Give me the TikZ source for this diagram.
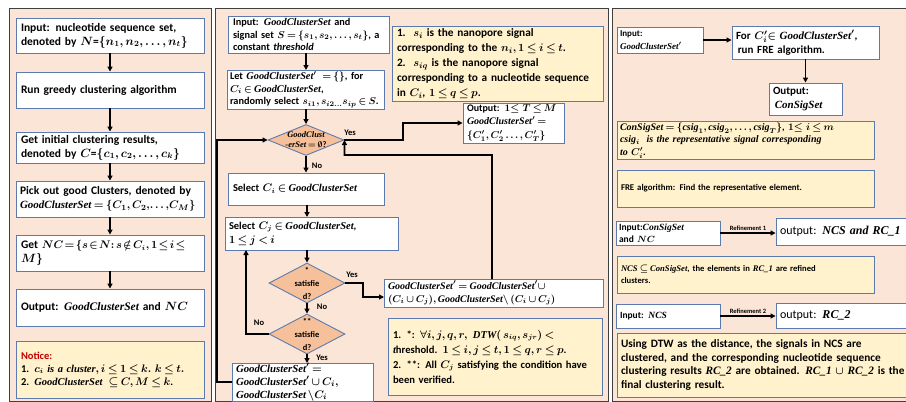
\documentclass[tikz,border=0pt]{standalone}
\usepackage[no-math]{fontspec}
\setmainfont{Carlito}
\newfontfamily\mwfam{Liberation Serif}
\usetikzlibrary{arrows.meta,shapes.geometric}
\definecolor{panfill}{HTML}{FBE5D6}
\definecolor{pancol}{HTML}{3F3F3F}
\definecolor{boxcol}{HTML}{5B7BB0}
\definecolor{notefill}{HTML}{FFF2CC}
\definecolor{diafill}{HTML}{F6C09A}
\definecolor{noticered}{HTML}{C00000}
\newcommand\mwf{\mwfam\bfseries\itshape}
\newcommand\mw[1]{\mbox{\mwf #1}}
\newcommand\gcs{\mw{GoodClusterSet}}
\newcommand\css{\mw{ConSigSet}}
\newcommand\fs[2]{\fontsize{#1}{#2}\selectfont\bfseries\boldmath\thickmuskip=3.5mu plus 2mu\medmuskip=3mu plus 1mu\thinmuskip=2.5mu}
\tikzset{
  panel/.style={draw=pancol, fill=panfill, line width=0.8pt},
  wbox/.style={draw=boxcol, fill=white, line width=0.9pt, align=left, inner xsep=5pt, inner ysep=1pt, anchor=center},
  ybox/.style={wbox, fill=notefill},
  dia/.style={diamond, draw=boxcol, fill=diafill, line width=0.9pt, inner sep=0pt},
  diatext/.style={align=center, inner sep=0pt},
  arr/.style={-{Triangle[length=5pt,width=5pt]}, line width=1.6pt},
  lbl/.style={font=\fs{8.5}{10}, inner sep=0pt},
  tiny/.style={font=\fs{6.5}{8}, inner sep=0pt},
}
\begin{document}
\begin{tikzpicture}[x=1pt,y=-1pt]
\useasboundingbox (0,0) rectangle (906,402);
\fill[white] (0,0) rectangle (906,402);
% panels
\draw[panel] (9,8) rectangle (211,401);
\draw[panel] (215,8) rectangle (608,401);
\draw[panel] (612,8) rectangle (915,401);

% ---------------- panel 1 ----------------
\begin{scope}[every node/.append style={font=\fs{11.5}{14}}]
\node[wbox, minimum width=188, text width=178, minimum height=35] (a1) at (110,35.5)
  {Input: nucleotide sequence set,\\ denoted by $N$=$\{n_1,n_2,\ldots,n_t\}$};
\node[wbox, minimum width=188, text width=178, minimum height=36] (a2) at (110,90)
  {Run greedy clustering algorithm};
\node[wbox, minimum width=188, text width=178, minimum height=31] (a3) at (110,147.5)
  {Get initial clustering results,\\ denoted by $C$=$\{c_1,c_2,\ldots,c_k\}$};
\node[wbox, minimum width=188, text width=180, inner xsep=4pt, minimum height=36] (a4) at (110,199)
  {Pick out good Clusters, denoted by\\ {\fontsize{11}{14}\selectfont$\gcs=\{C_1,C_2,\!\ldots,\!C_M\}$}};
\node[wbox, minimum width=188, text width=178, minimum height=36] (a5) at (110,253)
  {Get {\fontsize{10.5}{14}\selectfont\thickmuskip=2mu plus 1mu\medmuskip=2mu$NC=\{s\in N\colon s\notin C_i,1\le i\le$}\\ $M\}$};
\node[wbox, minimum width=188, text width=178, minimum height=37] (a6) at (110,307.5)
  {Output: $\gcs$ and $NC$};
\node[ybox, minimum width=188, text width=178, minimum height=57, font=\fs{10.5}{13}] (a7) at (110,369.5)
  {{\color{noticered}Notice:}\\
   1. $c_i$ \mw{is a cluster}$, i\le 1\le k.$ $k\le t.$\\
   2. $\gcs\ \subseteq C, M\le k$.};
\end{scope}
\draw[arr] (a1) -- (a2);
\draw[arr] (a2) -- (a3);
\draw[arr] (a3) -- (a4);
\draw[arr] (a4) -- (a5);
\draw[arr] (a5) -- (a6);

% ---------------- panel 2 ----------------
\node[wbox, minimum width=161, text width=151, minimum height=37, font=\fs{10.3}{12.5}] (b1) at (308.5,34.5)
  {Input: $\gcs$ and\\ signal set $S=\{s_1,s_2,\ldots,s_t\}$, a\\ constant \textit{threshold}};
\node[wbox, minimum width=157, text width=151, inner xsep=3pt, minimum height=39, font=\fs{10.3}{12.5}] (b2) at (305.5,89.5)
  {Let $\gcs'\ =\{\}$, for\\ $C_i\in\gcs$,\\ randomly select $s_{i1},s_{i2\ldots}s_{ip}\in S$.};
\node[ybox, minimum width=211, text width=201, minimum height=75, font=\fs{11.3}{15}] (b3) at (497.5,63.5)
  {1. \,$s_i$ is the nanopore signal\\ corresponding to the $n_i,1\le i\le t$.\\
   2. \,$s_{iq}$ is the nanopore signal\\ corresponding to a nucleotide sequence\\ in $C_i$, $1\le q\le p$.};
\node[dia, minimum width=76, minimum height=31] (d1) at (306,140) {};
\node[diatext, font=\fs{8.5}{10}] (d1t) at (306,140) {\mw{GoodClust}\\\mw{-erSet} $=\emptyset$?};
\node[wbox, minimum width=101, text width=93, inner xsep=4pt, minimum height=40, font=\fs{10}{13.5}] (b4) at (513.5,123)
  {Output: $1{\le}\ T\le M$\\ $\gcs'=$\\ $\{C_1',C_2'\ldots,C_T'\}$};
\node[wbox, minimum width=156, text width=146, minimum height=32, font=\fs{10.5}{12}] (b5) at (306,189)
  {Select $C_i\in\gcs$};
\node[wbox, minimum width=173, text width=165, inner xsep=4pt, minimum height=33, font=\fs{10.5}{14}] (b6) at (311.5,233.5)
  {Select $C_j\in\gcs$,\\ $1\le j<i$};
\node[dia, minimum width=76, minimum height=40] (d2) at (307,283) {};
\node[diatext, font=\fs{8.5}{13}] (d2t) at (307,283) {*\\satisfie\\d?};
\node[dia, minimum width=76, minimum height=40] (d3) at (307,334) {};
\node[diatext, font=\fs{8.5}{13}] (d3t) at (307,334) {**\\satisfie\\d?};
\node[wbox, minimum width=219, text width=211, inner xsep=4pt, minimum height=28, font=\fs{10}{13}] (b7) at (493.5,293)
  {$\gcs'=\gcs'\cup$\\ $(C_i\cup C_j),\gcs\backslash\,(C_i\cup C_j)$};
\node[ybox, minimum width=214, text width=204, minimum height=77, font=\fs{10.6}{15}] (b8) at (495,356.5)
  {1. *: $\forall i,j,q,r,\ \mw{DTW}(\,s_{iq},s_{jr})<$\\ \mw{t}hreshold. $1\le i,j\le t,1\le q,r\le p$.\\
   2. **: All $C_j$ satisfying the condition have\\ been verified.};
\node[wbox, anchor=north, minimum width=141, text width=133, inner xsep=4pt, inner ysep=0pt, font=\fs{10.8}{13}] (b9) at (302.5,363)
  {$\gcs'=$\\ $\gcs'\cup C_i,$\\ $\gcs\,\backslash C_i$};

\coordinate (v1) at (306,53);
\coordinate (v2) at (306,70);
\coordinate (v3) at (306,109);
\coordinate (v4) at (307,205);
\coordinate (v5) at (307,217);
\coordinate (v6) at (307,250);
\coordinate (r1) at (403,140);
\coordinate (r2) at (403,123);
\coordinate (q0) at (492,279);
\coordinate (q1) at (492,155);
\coordinate (q2) at (344.5,155);
\coordinate (l0) at (232,382);
\coordinate (l1) at (217,382);
\coordinate (l2) at (217,140);
\coordinate (m1) at (246,334);
\coordinate (m2) at (246,250);
\coordinate (y1) at (363,283);
\coordinate (y2) at (363,297);
\coordinate (y3) at (384,297);
\coordinate (w1) at (307,354);
\coordinate (w2) at (307,363);

\draw[arr] (v1) -- (v2);
\draw[arr] (v3) -- (d1.north);
\draw[arr] (d1.south) -- (b5.north);
\draw[arr] (v4) -- (v5);
\draw[arr] (v6) -- (d2.north);
\draw[arr] (d2.south) -- (d3.north);
\draw[arr] (w1) -- (w2);
\draw[arr] (d1.east) -- (r1) -- (r2) -- (b4.west);
\draw[arr] (q0) -- (q1) -- (q2) -- (d1.east);
\draw[arr] (l0) -- (l1) -- (l2) -- (d1.west);
\draw[arr] (d3.west) -- (m1) -- (m2);
\draw[arr] (d2.east) -- (y1) -- (y2) -- (y3);

\node[lbl] (t1) at (350,133) {Yes};
\node[lbl] (t2) at (317,166) {No};
\node[lbl] (t3) at (352,275) {Yes};
\node[lbl] (t4) at (322,307) {No};
\node[lbl] (t5) at (259,323) {No};
\node[lbl] (t6) at (322,358) {Yes};

% ---------------- panel 3 ----------------
\node[wbox, minimum width=86, text width=80, inner xsep=3pt, minimum height=26, font=\fs{9}{12.5}] (c1) at (660,40)
  {Input:\\ $\gcs'$};
\node[wbox, minimum width=147, text width=139, inner xsep=4pt, minimum height=33, font=\fs{11}{14}] (c2) at (805.5,42.5)
  {For $C_i'{\in}\ \gcs'$,\\ \,run FRE algorithm.};
\node[wbox, minimum width=73, text width=65, inner xsep=4pt, minimum height=32, font=\fs{11}{14}] (c3) at (805.5,99)
  {Output:\\ \,$\css$};
\node[ybox, minimum width=257, text width=251, inner xsep=3pt, minimum height=37, font=\fs{10}{12.3}] (c4) at (745.5,140.5)
  {$\css=\{\mw{csig}_1,\mw{csig}_2,\ldots,\mw{csig}_T\}$, $1{\le}\ i\le m$\\
   \mw{csig}$_i$\ \ \mw{is the representative signal corresponding}\\ \mw{to} $C_i'$.};
\node[ybox, minimum width=257, text width=249, inner xsep=4pt, minimum height=37, font=\fs{8.8}{11}] (c5) at (745.5,188.5)
  {FRE algorithm: Find the representative element.};
\node[wbox, minimum width=104, text width=98, inner xsep=3pt, minimum height=24, font=\fs{9.5}{11.5}] (c6) at (668,233)
  {Input:$\css$\\ and $NC$};
\node[wbox, minimum width=134, text width=126, inner xsep=4pt, minimum height=27, font=\fs{12}{14}] (c7) at (843,231.5)
  {{\mdseries output:} \mw{NCS and RC\_1}};
\node[ybox, minimum width=257, text width=249, inner xsep=4pt, minimum height=37, font=\fs{8.6}{12}] (c8) at (745.5,274.5)
  {$\mw{NCS}\subseteq\css$, the elements in \mw{RC\_1} are refined\\ clusters.};
\node[wbox, minimum width=104, text width=96, inner xsep=4pt, minimum height=24, font=\fs{9.5}{11.5}] (c9) at (668,316)
  {Input: \mw{NCS}};
\node[wbox, minimum width=134, text width=126, inner xsep=4pt, minimum height=25, font=\fs{12}{14}] (c10) at (843,315.5)
  {{\mdseries output:} \mw{RC\_2}};
\node[ybox, minimum width=293, text width=285, inner xsep=4pt, minimum height=64, font=\fs{11.3}{13.4}] (c11) at (763.5,365)
  {Using DTW as the distance, the signals in NCS are\\ clustered, and the corresponding nucleotide sequence\\
   clustering results \mw{RC\_2} are obtained. \mw{RC\_1} $\cup$ \mw{RC\_2} is the\\ final clustering result.};

\draw[arr] (c1.east) -- (c2.west |- c1.east);
\draw[arr] (c2.south -| c3.north) -- (c3.north);
\draw[arr] (c6.east) -- (c7.west |- c6.east) node[tiny, midway, above=2pt] (rf1) {Refinement 1};
\draw[arr] (c9.east) -- (c10.west |- c9.east) node[tiny, midway, above=2pt] (rf2) {Refinement 2};
\end{tikzpicture}
\end{document}
